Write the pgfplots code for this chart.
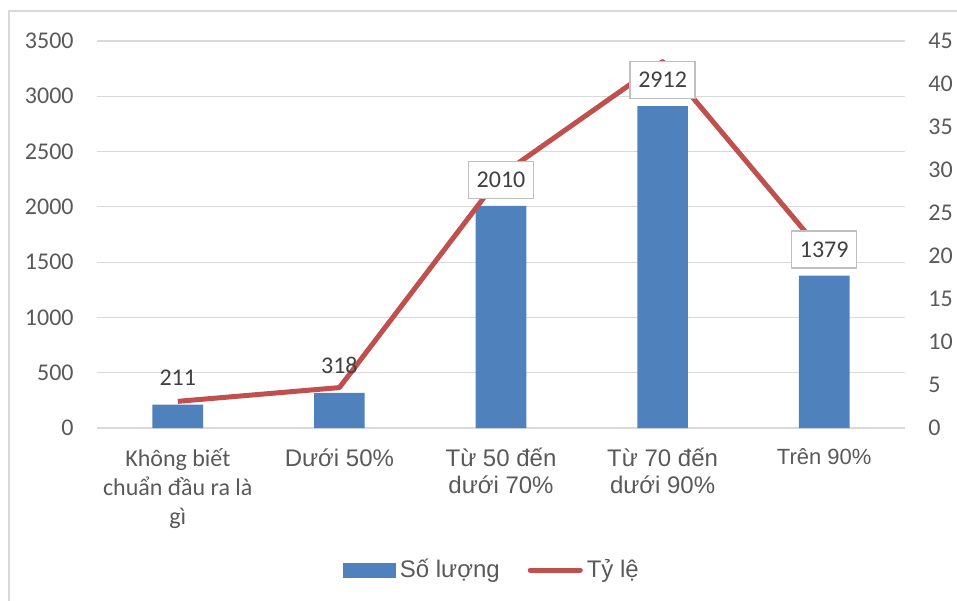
\documentclass[border=0pt]{standalone}
\usepackage{fontspec}
\setmainfont{Liberation Sans}
\newfontfamily\calfont{Carlito}
\usepackage{pgfplots}
\pgfplotsset{compat=1.18}

\definecolor{barblue}{HTML}{4F81BD}
\definecolor{linered}{HTML}{C0504D}
\definecolor{gridgray}{HTML}{D9D9D9}
\definecolor{txt}{HTML}{595959}
\definecolor{lbl}{HTML}{404040}
\definecolor{boxgray}{HTML}{BFBFBF}

\newcommand\cf{\calfont\fontsize{12}{14.5}\selectfont}

\pgfplotsset{
  /pgf/number format/1000 sep={},
  /pgf/number format/assume math mode=true,
  base/.style={
    scale only axis, width=404pt, height=193.5pt,
    xmin=-0.5, xmax=4.5,
    axis line style={draw=none}, major tick length=0pt,
    tick style={draw=none},
    clip=false,
  },
}

\begin{document}
\begin{tikzpicture}
\useasboundingbox (-48.5pt,-86pt) rectangle (430pt,214pt);
\draw[gridgray, line width=0.6pt] (-44pt,-90pt) -- (-44pt,208.5pt) -- (440pt,208.5pt);

% bars, grid, left axis, categories
\begin{axis}[base,
  ymin=0, ymax=3500, ytick={0,500,...,3500},
  ymajorgrids, grid style={gridgray, line width=0.6pt},
  yticklabel style={anchor=east, inner sep=0pt, xshift=-11.5pt,
    font=\calfont\fontsize{12}{14}\selectfont, text=txt},
  xtick={0,1,2,3,4},
  xticklabels={
    {{\cf Không biết}\\[1pt]{\cf chuẩn đầu ra là}\\[1pt]{\cf gì}},
    {Dưới 50\%},
    {Từ 50 đến\\dưới 70\%},
    {Từ 70 đến\\dưới 90\%},
    {\fontsize{11}{12}\selectfont Trên 90\%}},
  xticklabel style={align=center, text=txt, font=\fontsize{12}{13.5}\selectfont,
    anchor=north, inner sep=0pt, yshift=-10pt},
]
\addplot[ybar, bar width=25.3pt, fill=barblue, draw=none]
  coordinates {(0,211) (1,318) (2,2010) (3,2912) (4,1379)};
\end{axis}

% line, right axis, legend
\begin{axis}[base,
  ymin=0, ymax=45, ytick={0,5,...,45},
  axis y line*=right, xtick=\empty,
  yticklabel style={anchor=west, inner sep=0pt, xshift=11.5pt,
    font=\calfont\fontsize{12}{14}\selectfont, text=txt},
  legend columns=2,
  legend style={at={(0.49,-0.367)}, anchor=center, draw=none, fill=none,
    font=\fontsize{12}{13.5}\selectfont, text=txt,
    nodes={inner xsep=2pt},
    /tikz/every even column/.append style={column sep=12pt}},
]
\addlegendimage{legend image code/.code={\fill[barblue] (0pt,-3.5pt) rectangle (26pt,3.5pt);}}
\addlegendentry{Số lượng}
\addplot[linered, line width=2.5pt, line join=round,
  legend image code/.code={\draw[linered, line width=2.5pt, line cap=round] (1.25pt,0pt) -- (26.25pt,0pt);}]
  coordinates {(0,3.1) (1,4.7) (2,29.4) (3,42.6) (4,20.2)};
\addlegendentry{Tỷ lệ}
\end{axis}

% data labels on top
\begin{axis}[base, hide axis, ymin=0, ymax=3500]
\addplot[ybar, bar width=25.3pt, draw=none, fill=none,
  nodes near coords,
  every node near coord/.append style={anchor=center, yshift=13.5pt,
    font=\calfont\fontsize{12}{14}\selectfont, text=lbl}]
  coordinates {(0,211) (1,318)};
\addplot[ybar, bar width=25.3pt, draw=none, fill=none,
  nodes near coords,
  every node near coord/.append style={anchor=center, yshift=13pt,
    font=\calfont\fontsize{12}{14}\selectfont, text=lbl,
    draw=boxgray, line width=0.75pt, fill=white,
    minimum width=32.5pt, minimum height=18.5pt}]
  coordinates {(2,2010) (3,2912) (4,1379)};
\end{axis}
\end{tikzpicture}
\end{document}
